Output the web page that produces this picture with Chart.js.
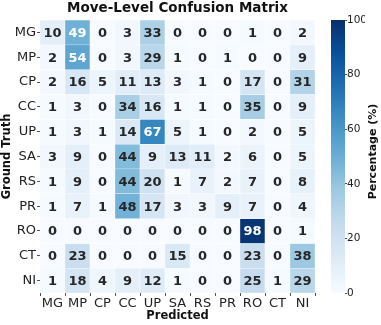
<!DOCTYPE html>
<html>
<head>
<meta charset="utf-8">
<script src="https://cdn.jsdelivr.net/npm/chart.js@4"></script>
<style>
  html, body { margin: 0; padding: 0; background: #fff; }
  #wrap { position: relative; width: 381px; height: 325px; }
  #heat { position: absolute; left: 0; top: 0; }
  #cbar { position: absolute; left: 325px; top: 0; }
</style>
</head>
<body>
<div id="wrap">
  <canvas id="heat" width="325" height="325"></canvas>
  <canvas id="cbar" width="56" height="325"></canvas>
</div>
<script>
// move classes, same order on both axes
const categories = ["MG", "MP", "CP", "CC", "UP", "SA", "RS", "PR", "RO", "CT", "NI"]

// one row per ground truth class, percentages over predicted classes
const MG = [10, 49, 0, 3, 33, 0, 0, 0, 1, 0, 2]
const MP = [2, 54, 0, 3, 29, 1, 0, 1, 0, 0, 9]
const CP = [2, 16, 5, 11, 13, 3, 1, 0, 17, 0, 31]
const CC = [1, 3, 0, 34, 16, 1, 1, 0, 35, 0, 9]
const UP = [1, 3, 1, 14, 67, 5, 1, 0, 2, 0, 5]
const SA = [3, 9, 0, 44, 9, 13, 11, 2, 6, 0, 5]
const RS = [1, 9, 0, 44, 20, 1, 7, 2, 7, 0, 8]
const PR = [1, 7, 1, 48, 17, 3, 3, 9, 7, 0, 4]
const RO = [0, 0, 0, 0, 0, 0, 0, 0, 98, 0, 1]
const CT = [0, 23, 0, 0, 0, 15, 0, 0, 23, 0, 38]
const NI = [1, 18, 4, 9, 12, 1, 0, 0, 25, 1, 29]
const rows = [MG, MP, CP, CC, UP, SA, RS, PR, RO, CT, NI]

const colorTicks = [0, 20, 40, 60, 80, 100]

// matplotlib "Blues"
const blues = ["#f7fbff", "#deebf7", "#c6dbef", "#9ecae1", "#6baed6", "#4292c6", "#2171b5", "#08519c", "#08306b"]

function hexToRgb(h) {
  const n = parseInt(h.slice(1), 16)
  return [(n >> 16) & 255, (n >> 8) & 255, n & 255]
}

function bluesAt(t) {
  t = Math.max(0, Math.min(1, t))
  const pos = t * (blues.length - 1)
  const i = Math.min(Math.floor(pos), blues.length - 2)
  const f = pos - i
  const a = hexToRgb(blues[i])
  const b = hexToRgb(blues[i + 1])
  return a.map((v, k) => v + (b[k] - v) * f)
}

function rgbStr(c) {
  return `rgb(${Math.round(c[0])}, ${Math.round(c[1])}, ${Math.round(c[2])})`
}

function luminance(c) {
  const lin = c.map(v => {
    v = v / 255
    return v <= 0.03928 ? v / 12.92 : Math.pow((v + 0.055) / 1.055, 2.4)
  })
  return 0.2126 * lin[0] + 0.7152 * lin[1] + 0.0722 * lin[2]
}

Chart.defaults.font.family = "'DejaVu Sans', sans-serif"
Chart.defaults.color = "#222"

// numbers inside the cells
const cellText = {
  id: "cellText",
  afterDatasetsDraw(chart) {
    const ctx = chart.ctx
    ctx.save()
    ctx.font = "bold 13px 'DejaVu Sans', sans-serif"
    ctx.textAlign = "center"
    ctx.textBaseline = "middle"
    rows.forEach((row, r) => {
      const meta = chart.getDatasetMeta(r)
      row.forEach((v, c) => {
        const bar = meta.data[c]
        ctx.fillStyle = luminance(bluesAt(v / 100)) > 0.4 ? "#262626" : "#ffffff"
        ctx.fillText(String(v), bar.x, (bar.y + bar.base) / 2 + 1)
      })
    })
    ctx.restore()
  }
}

new Chart(document.getElementById("heat"), {
  type: "bar",
  data: {
    labels: categories,
    datasets: rows.map((row, r) => ({
      label: categories[r],
      data: row.map(() => [r - 0.5, r + 0.5]),
      backgroundColor: row.map(v => rgbStr(bluesAt(v / 100))),
      borderColor: "#ffffff",
      borderWidth: 0.5,
      borderSkipped: false,
      barPercentage: 1,
      categoryPercentage: 1,
      grouped: false
    }))
  },
  options: {
    responsive: false,
    animation: false,
    layout: { padding: { left: 0, right: 10, top: 0, bottom: 0 } },
    plugins: {
      legend: { display: false },
      tooltip: { enabled: false },
      title: {
        display: true,
        text: "Move-Level Confusion Matrix",
        fullSize: false,
        color: "#111",
        font: { size: 13.5, weight: "bold" },
        padding: { top: 0, bottom: 3.8 }
      }
    },
    scales: {
      x: {
        type: "category",
        ticks: { font: { size: 13 }, padding: 0, autoSkip: false, maxRotation: 0, color: "#222" },
        grid: { drawOnChartArea: false, tickLength: 3, color: "#555" },
        border: { display: false },
        title: { display: true, text: "Predicted", color: "#111", font: { size: 11.5, weight: "bold" }, padding: { top: 0, bottom: 2 } },
        afterFit: s => { s.height = 32 }
      },
      y: {
        type: "linear",
        reverse: true,
        min: -0.5,
        max: 10.5,
        afterBuildTicks: s => { s.ticks = categories.map((_, i) => ({ value: i })) },
        ticks: { font: { size: 13 }, padding: 1, autoSkip: false, color: "#222", callback: v => categories[v] },
        grid: { drawOnChartArea: false, tickLength: 3, color: "#555" },
        border: { display: false },
        title: { display: true, text: "Ground Truth", color: "#111", font: { size: 11.5, weight: "bold" }, padding: 0 },
        afterFit: s => { s.width = 40 }
      }
    }
  },
  plugins: [cellText]
})

// colorbar label reads bottom to top, so draw it by hand
const cbarLabel = {
  id: "cbarLabel",
  afterDraw(chart) {
    const s = chart.scales.y
    const ctx = chart.ctx
    ctx.save()
    ctx.translate(s.right + 8, (s.top + s.bottom) / 2 - 5)
    ctx.rotate(-Math.PI / 2)
    ctx.font = "bold 11px 'DejaVu Sans', sans-serif"
    ctx.fillStyle = "#111"
    ctx.textAlign = "center"
    ctx.textBaseline = "middle"
    ctx.fillText("Percentage (%)", 0, 0)
    ctx.restore()
  }
}

new Chart(document.getElementById("cbar"), {
  type: "bar",
  data: {
    labels: [""],
    datasets: [{
      data: [[0, 100]],
      backgroundColor: context => {
        const area = context.chart.chartArea
        if (!area) return blues[0]
        const g = context.chart.ctx.createLinearGradient(0, area.bottom, 0, area.top)
        blues.forEach((c, i) => g.addColorStop(i / (blues.length - 1), c))
        return g
      },
      borderWidth: 0,
      barPercentage: 1,
      categoryPercentage: 1
    }]
  },
  options: {
    responsive: false,
    animation: false,
    layout: { padding: { left: 6, right: 16, top: 20, bottom: 32 } },
    plugins: {
      legend: { display: false },
      tooltip: { enabled: false }
    },
    scales: {
      x: { display: false },
      y: {
        position: "right",
        min: 0,
        max: 100,
        afterBuildTicks: s => { s.ticks = colorTicks.map(v => ({ value: v })) },
        ticks: { font: { size: 10.5 }, padding: 0, color: "#222" },
        grid: { drawOnChartArea: false, tickLength: 2, color: "#555" },
        border: { display: false },
        afterFit: s => { s.width = 20 }
      }
    }
  },
  plugins: [cbarLabel]
})
</script>
</body>
</html>
